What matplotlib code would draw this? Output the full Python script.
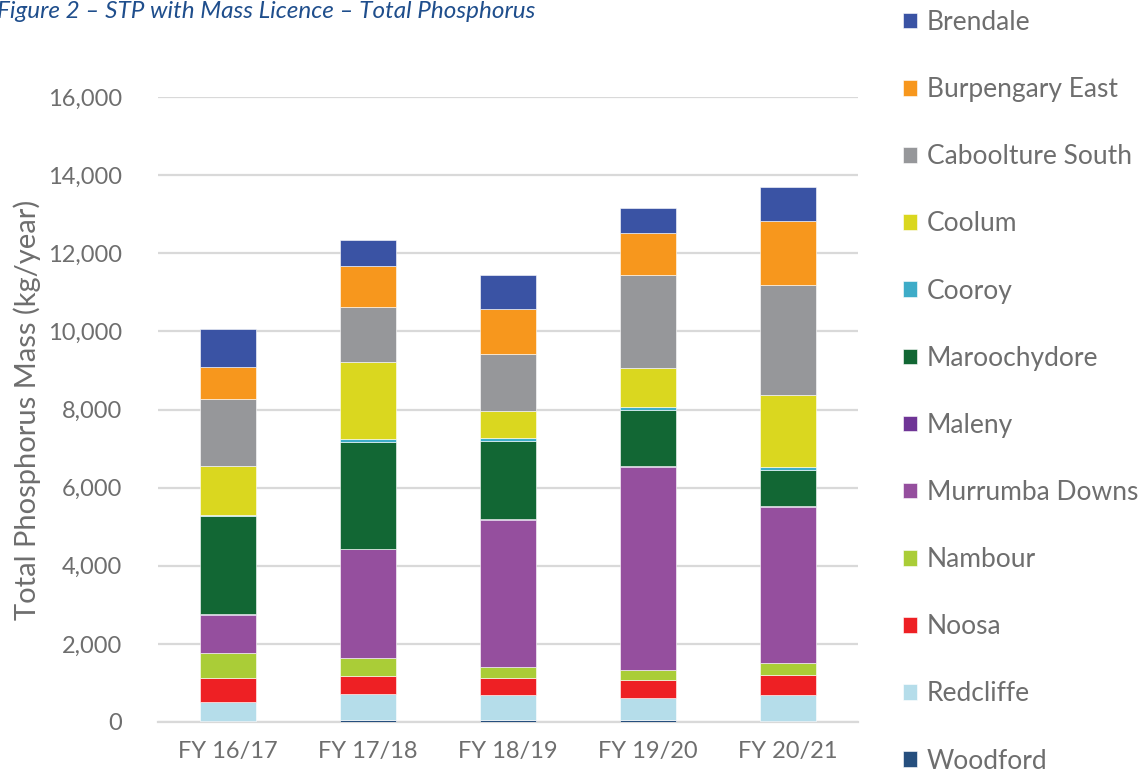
import numpy as np
import matplotlib
matplotlib.use("Agg")
import matplotlib.pyplot as plt
from matplotlib.ticker import FuncFormatter

years = ["FY 16/17", "FY 17/18", "FY 18/19", "FY 19/20", "FY 20/21"]

# stacked bottom -> top (kg/year)
woodford = [25, 55, 50, 50, 15]
redcliffe = [487, 660, 640, 575, 685]
noosa = [605, 455, 436, 460, 512]
nambour = [649, 479, 291, 246, 308]
murrumba = [984, 2773, 3754, 5207, 3984]
maleny = [15, 15, 15, 15, 20]
maroochydore = [2500, 2742, 1999, 1445, 927]
cooroy = [26, 59, 77, 77, 69]
coolum = [1262, 1989, 709, 998, 1843]
caboolture = [1716, 1390, 1460, 2381, 2834]
burpengary = [811, 1058, 1134, 1076, 1621]
brendale = [980, 658, 888, 622, 888]

series = [
    ("Woodford", woodford, "#264F7E"),
    ("Redcliffe", redcliffe, "#B5DDEA"),
    ("Noosa", noosa, "#EE2024"),
    ("Nambour", nambour, "#AACD37"),
    ("Murrumba Downs", murrumba, "#954F9E"),
    ("Maleny", maleny, "#6F3596"),
    ("Maroochydore", maroochydore, "#126734"),
    ("Cooroy", cooroy, "#3EACC8"),
    ("Coolum", coolum, "#DAD71F"),
    ("Caboolture South", caboolture, "#96979A"),
    ("Burpengary East", burpengary, "#F7971D"),
    ("Brendale", brendale, "#3A53A4"),
]

plt.rcParams["font.family"] = ["Lato", "DejaVu Sans"]
text_col = "#6E6E6E"

fig = plt.figure(figsize=(11.45, 7.76), dpi=100)
ax = fig.add_axes([158 / 1145, 54 / 776, 700 / 1145, 625 / 776])

x = np.arange(len(years))
bottom = np.zeros(len(years))
handles = []
for name, vals, col in series:
    b = ax.bar(x, vals, width=0.4, bottom=bottom, color=col,
               edgecolor="white", linewidth=0.4, label=name, zorder=3)
    handles.append(b)
    bottom += np.array(vals)

ax.set_xlim(-0.5, len(years) - 0.5)
ax.set_ylim(0, 16000)
ax.set_yticks(np.arange(0, 16001, 2000))
ax.yaxis.set_major_formatter(FuncFormatter(lambda v, p: f"{int(v):,}"))
ax.grid(axis="y", color="#D9D9D9", linewidth=1.6, zorder=0)
ax.set_xticks(x)
ax.set_xticklabels(years)
ax.tick_params(axis="y", length=0, pad=26, labelsize=17, labelcolor=text_col)
ax.tick_params(axis="x", length=0, pad=14, labelsize=17, labelcolor=text_col)
for s in ["top", "right", "left"]:
    ax.spines[s].set_visible(False)
ax.spines["bottom"].set_color("#D9D9D9")
ax.spines["bottom"].set_linewidth(1.6)

ax.set_ylabel("Total Phosphorus Mass (kg/year)", fontsize=21, color=text_col, labelpad=5)

# the source image crops the caption at its left edge
fig.text(535 / 1145, 1 - 11 / 776, "Figure 2 \u2013 STP with Mass Licence \u2013 Total Phosphorus",
         ha="right", va="center", fontsize=17.5, style="italic", color="#1F4E8C")

fig.legend(handles[::-1], [s[0] for s in series][::-1], loc="upper left",
           bbox_to_anchor=(892 / 1145, 1.0007), frameon=False, fontsize=19,
           borderaxespad=0, handlelength=0.53, handleheight=0.53, handletextpad=0.38,
           labelspacing=1.597, labelcolor=text_col)

fig.savefig("out.png", dpi=100)
